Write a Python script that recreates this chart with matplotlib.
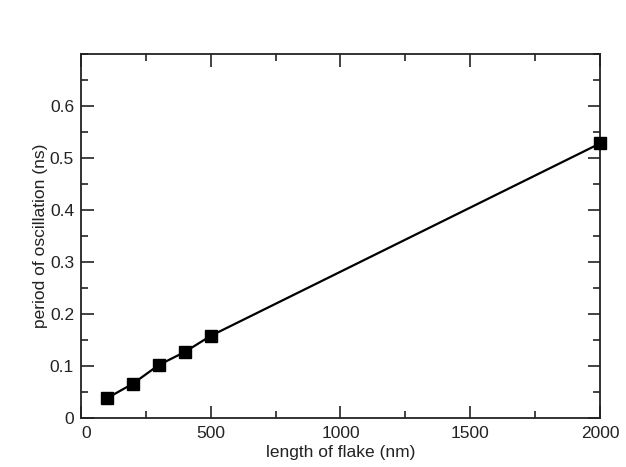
import matplotlib.pyplot as plt
from matplotlib.ticker import MultipleLocator

# flake length (nm) vs oscillation period (ns)
flake_length = [100, 200, 300, 400, 500, 2000]
period = [0.038, 0.066, 0.102, 0.127, 0.158, 0.528]

x_ticks = [0, 500, 1000, 1500, 2000]
y_ticks = [0, 0.1, 0.2, 0.3, 0.4, 0.5, 0.6]
y_labels = ['0', '0.1', '0.2', '0.3', '0.4', '0.5', '0.6']

plt.rcParams['font.family'] = ['Liberation Sans', 'DejaVu Sans']

fig = plt.figure(figsize=(6.26, 4.67), dpi=100)
ax = fig.add_axes([81/626, 1 - 418/467, (600-81)/626, (418-54)/467])

ax.plot(flake_length, period, color='black', linewidth=1.6,
        marker='s', markersize=8, clip_on=False, zorder=3)

ax.set_xlim(0, 2000)
ax.set_ylim(0, 0.7)
ax.set_xticks(x_ticks)
ax.set_xticklabels([str(v) for v in x_ticks])
ax.set_yticks(y_ticks)
ax.set_yticklabels(y_labels)
ax.xaxis.set_minor_locator(MultipleLocator(250))
ax.yaxis.set_minor_locator(MultipleLocator(0.05))

ax.tick_params(which='both', direction='in', top=True, right=True,
               labelsize=12.5, width=1.2, colors='#222222')
ax.tick_params(which='major', length=9)
ax.tick_params(axis='x', which='major', pad=6)
ax.tick_params(axis='y', which='major', pad=5)
ax.tick_params(which='minor', length=5)
for s in ax.spines.values():
    s.set_linewidth(1.3)
    s.set_color('#222222')

# the zeros sit nudged away from the corner, as in the original
xl = ax.get_xticklabels()
xl[0].set_horizontalalignment('left')
yl = ax.get_yticklabels()
yl[0].set_verticalalignment('center_baseline')

ax.set_xlabel('length of flake (nm)', fontsize=12.5, labelpad=3, color='#222222')
ax.set_ylabel('period of oscillation (ns)', fontsize=12.5, labelpad=1, color='#222222')

fig.savefig('out.png', dpi=100)
